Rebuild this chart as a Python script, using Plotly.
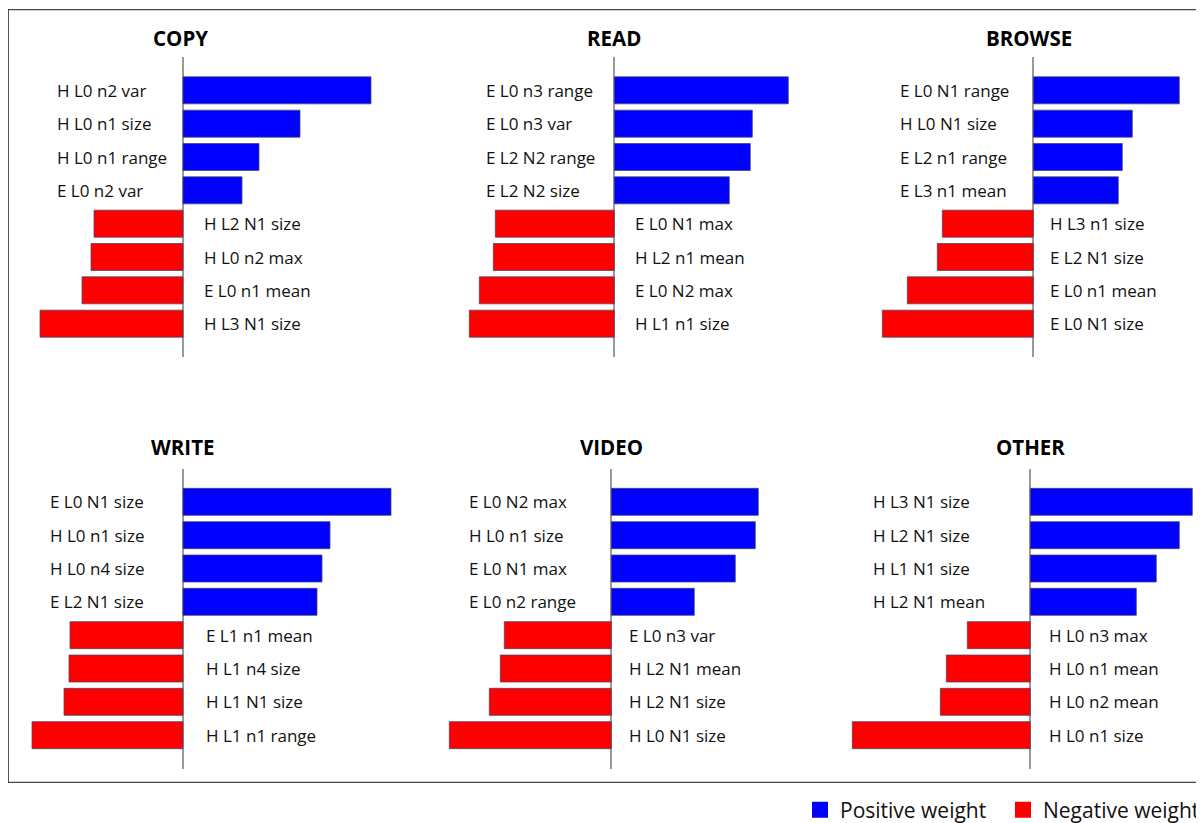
import plotly.graph_objects as go

# ---------------- data ----------------
titles = ["COPY", "READ", "BROWSE", "WRITE", "VIDEO", "OTHER"]

copy_features = ["H L0 n2 var", "H L0 n1 size", "H L0 n1 range", "E L0 n2 var",
                 "H L2 N1 size", "H L0 n2 max", "E L0 n1 mean", "H L3 N1 size"]
copy_weights = [1.88, 1.17, 0.76, 0.59, -0.89, -0.92, -1.01, -1.43]

read_features = ["E L0 n3 range", "E L0 n3 var", "E L2 N2 range", "E L2 N2 size",
                 "E L0 N1 max", "H L2 n1 mean", "E L0 N2 max", "H L1 n1 size"]
read_weights = [1.74, 1.38, 1.36, 1.15, -1.19, -1.21, -1.35, -1.45]

browse_features = ["E L0 N1 range", "H L0 N1 size", "E L2 n1 range", "E L3 n1 mean",
                   "H L3 n1 size", "E L2 N1 size", "E L0 n1 mean", "E L0 N1 size"]
browse_weights = [1.46, 0.99, 0.89, 0.85, -0.91, -0.96, -1.26, -1.51]

write_features = ["E L0 N1 size", "H L0 n1 size", "H L0 n4 size", "E L2 N1 size",
                  "E L1 n1 mean", "H L1 n4 size", "H L1 N1 size", "H L1 n1 range"]
write_weights = [2.08, 1.47, 1.39, 1.34, -1.13, -1.14, -1.19, -1.51]

video_features = ["E L0 N2 max", "H L0 n1 size", "E L0 N1 max", "E L0 n2 range",
                  "E L0 n3 var", "H L2 N1 mean", "H L2 N1 size", "H L0 N1 size"]
video_weights = [1.47, 1.44, 1.24, 0.83, -1.07, -1.11, -1.22, -1.62]

other_features = ["H L3 N1 size", "H L2 N1 size", "H L1 N1 size", "H L2 N1 mean",
                  "H L0 n3 max", "H L0 n1 mean", "H L0 n2 mean", "H L0 n1 size"]
other_weights = [1.62, 1.49, 1.26, 1.06, -0.63, -0.84, -0.90, -1.78]

panel_features = [copy_features, read_features, browse_features,
                  write_features, video_features, other_features]
panel_weights = [copy_weights, read_weights, browse_weights,
                 write_weights, video_weights, other_weights]

legend_names = ["Positive weight", "Negative weight"]

# ---------------- layout (target picture pixels) ----------------
WIN_W, WIN_H = 1204, 823
OFF = 8                      # page body margin
W, H = WIN_W - OFF, WIN_H - OFF
POS_COLOR = "#0000FF"
NEG_COLOR = "#FF0000"
PX_PER_UNIT = 100.0


def px_x(px):
    return (px - OFF) / W


def px_y(py):
    return 1 - (py - OFF) / H


zero_px = [183, 614.3, 1033.3, 183, 611.3, 1030.3]
row_top = [57, 57, 57, 468.5, 468.5, 468.5]
title_y = [38, 38, 38, 447, 447, 447]
pos_label_off = [-128, -130, -135.6, -135.3, -144.6, -159.3]
neg_label_off = [19, 18.4, 15, 21.3, 15.4, 17]
title_shift = [-3, 0, -4, 0, 0, 0]
PLOT_H = 300

fig = go.Figure()
layout = dict(
    width=W, height=H,
    margin=dict(l=0, r=0, t=0, b=0, autoexpand=False),
    paper_bgcolor="white", plot_bgcolor="rgba(0,0,0,0)",
    barmode="overlay",
    showlegend=True,
    font=dict(family="Open Sans, sans-serif", color="#111111"),
)
annotations = []

for i in range(6):
    ax = "" if i == 0 else str(i + 1)
    xname, yname = "x" + ax, "y" + ax
    feats = panel_features[i]
    wts = panel_weights[i]
    colors = [POS_COLOR if v > 0 else NEG_COLOR for v in wts]

    fig.add_trace(go.Bar(
        x=wts, y=feats, orientation="h",
        marker=dict(color=colors, line=dict(color="rgba(70,70,100,0.75)", width=1)),
        width=0.81, showlegend=False, hoverinfo="x+y",
        xaxis=xname, yaxis=yname,
    ))

    z = zero_px[i]
    left = max(OFF, z - 190)
    right = min(WIN_W, z + 215)
    xr = [(left - z) / PX_PER_UNIT, (right - z) / PX_PER_UNIT]
    top = row_top[i]
    bottom = top + PLOT_H
    layout["xaxis" + ax] = dict(
        domain=[px_x(left), px_x(right)], range=xr, anchor=yname,
        showgrid=False, showticklabels=False, ticks="", showline=False,
        zeroline=True, zerolinecolor="#9a9a9a", zerolinewidth=1.5, fixedrange=True,
    )
    layout["yaxis" + ax] = dict(
        domain=[px_y(bottom), px_y(top)], range=[8, -1],
        type="category", categoryorder="array", categoryarray=feats,
        anchor=xname, showgrid=False, showticklabels=False, ticks="",
        showline=False, zeroline=False, fixedrange=True,
    )

    for f, v in zip(feats, wts):
        off = pos_label_off[i] if v > 0 else neg_label_off[i]
        annotations.append(dict(
            x=off / PX_PER_UNIT, y=f, xref=xname, yref=yname,
            text=f, showarrow=False, xanchor="left", yanchor="middle",
            font=dict(size=17, family="Open Sans, sans-serif", color="#111111"),
        ))
    annotations.append(dict(
        x=0, y=px_y(title_y[i]), xref=xname, yref="paper",
        text="<b>" + titles[i] + "</b>", showarrow=False,
        xanchor="center", yanchor="middle", xshift=title_shift[i],
        font=dict(size=20.5, family="Open Sans, sans-serif", color="#000000"),
    ))

# legend-only traces
for name, col in zip(legend_names, [POS_COLOR, NEG_COLOR]):
    fig.add_trace(go.Scatter(
        x=[None], y=[None], mode="markers", name=name,
        marker=dict(symbol="square", size=17, color=col),
        xaxis="x6", yaxis="y6", hoverinfo="skip",
    ))

layout["legend"] = dict(
    orientation="h", xref="container", yref="container",
    x=px_x(800), xanchor="left", y=px_y(810), yanchor="middle",
    entrywidth=158, entrywidthmode="pixels",
    font=dict(size=21, family="Open Sans, sans-serif", color="#111111"),
    bgcolor="rgba(0,0,0,0)", itemclick=False, itemdoubleclick=False,
    tracegroupgap=0,
)

layout["shapes"] = [dict(
    type="rect", xref="paper", yref="paper",
    x0=px_x(8.3), x1=px_x(1212), y0=px_y(782.3), y1=px_y(9.7),
    line=dict(color="#444444", width=1.2), fillcolor="rgba(0,0,0,0)", layer="below",
)]
layout["annotations"] = annotations

fig.update_layout(**layout)
fig.write_html("out.html")
